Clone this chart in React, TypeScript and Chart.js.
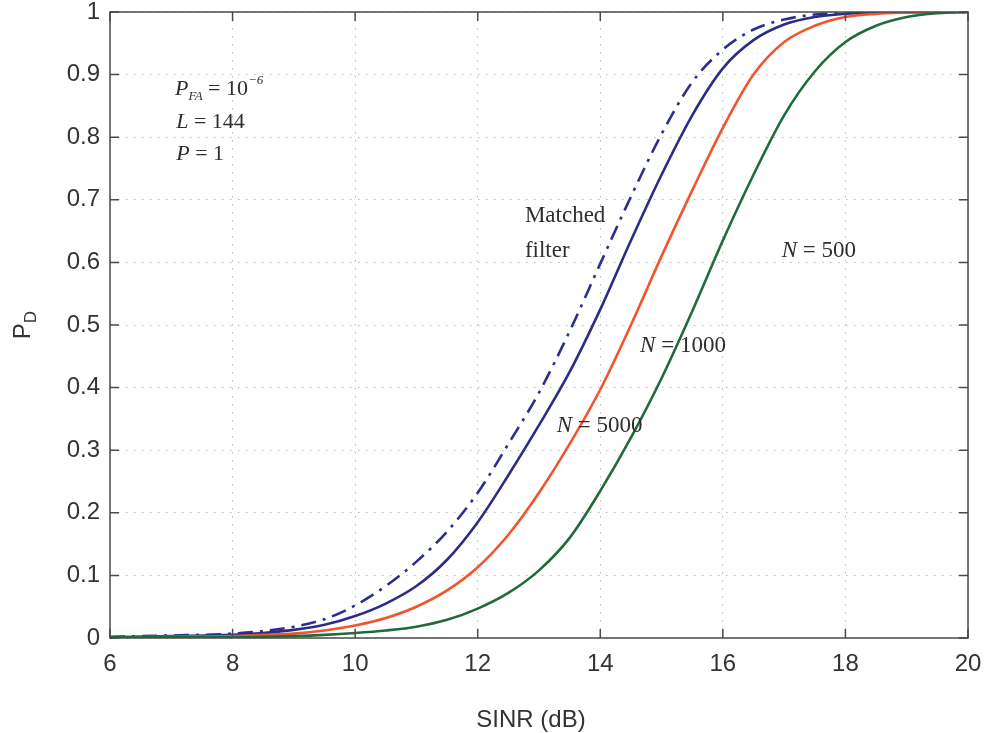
import React, { useEffect, useRef } from "react";
import { Chart, registerables } from "chart.js";
Chart.register(...registerables);

// SINR grid (dB) shared by all curves
const sinr = [6, 7, 8, 8.5, 9, 9.5, 10, 10.5, 11, 11.5, 12, 12.5, 13, 13.5, 14, 14.5, 15, 15.5, 16, 16.5, 17, 17.5, 18, 18.5, 19, 19.5, 20];
// Matched filter (dash-dot)
const pdMatched = [0.002, 0.004, 0.007, 0.011, 0.018, 0.03, 0.052, 0.083, 0.122, 0.17, 0.232, 0.31, 0.392, 0.49, 0.598, 0.705, 0.805, 0.888, 0.94, 0.972, 0.988, 0.996, 0.999, 1, 1, 1, 1];
// N = 5000
const pdN5000 = [0.001, 0.003, 0.005, 0.008, 0.013, 0.021, 0.035, 0.055, 0.083, 0.125, 0.185, 0.26, 0.34, 0.425, 0.525, 0.635, 0.74, 0.835, 0.91, 0.955, 0.98, 0.992, 0.997, 0.999, 1, 1, 1];
// N = 1000
const pdN1000 = [0.001, 0.002, 0.003, 0.005, 0.007, 0.012, 0.02, 0.032, 0.05, 0.076, 0.113, 0.165, 0.232, 0.31, 0.397, 0.5, 0.61, 0.715, 0.815, 0.9, 0.952, 0.978, 0.992, 0.997, 0.999, 1, 1];
// N = 500
const pdN500 = [0.001, 0.001, 0.001, 0.002, 0.003, 0.005, 0.008, 0.012, 0.018, 0.029, 0.047, 0.072, 0.108, 0.16, 0.235, 0.32, 0.415, 0.522, 0.635, 0.74, 0.835, 0.905, 0.952, 0.978, 0.992, 0.998, 1];

const xTicks = [6, 8, 10, 12, 14, 16, 18, 20];
const yTicks = [0, 0.1, 0.2, 0.3, 0.4, 0.5, 0.6, 0.7, 0.8, 0.9, 1];

const xTitle = "SINR (dB)";
const yTitleMain = "P";
const yTitleSub = "D";

type Seg = { t: string; italic?: boolean; size?: number; dy?: number };
type Note = { x: number; y: number; segs: Seg[] };

const notes: Note[] = [
  { x: 7.06, y: 0.867, segs: [{ t: "P", italic: true }, { t: "FA", italic: true, size: 13, dy: 5 }, { t: " = 10" }, { t: "−6", italic: true, size: 13, dy: -11 }] },
  { x: 7.08, y: 0.815, segs: [{ t: "L", italic: true }, { t: " = 144" }] },
  { x: 7.08, y: 0.764, segs: [{ t: "P", italic: true }, { t: " = 1" }] },
  { x: 12.77, y: 0.665, segs: [{ t: "Matched", size: 23 }] },
  { x: 12.77, y: 0.609, segs: [{ t: "filter", size: 23 }] },
  { x: 16.96, y: 0.609, segs: [{ t: "N", italic: true, size: 23 }, { t: " = 500", size: 23 }] },
  { x: 14.65, y: 0.457, segs: [{ t: "N", italic: true, size: 23 }, { t: " = 1000", size: 23 }] },
  { x: 13.29, y: 0.329, segs: [{ t: "N", italic: true, size: 23 }, { t: " = 5000", size: 23 }] },
];

const toPts = (xs: number[], ys: number[]) => xs.map((x, i) => ({ x, y: ys[i] }));

const decor = {
  id: "decor",
  afterDatasetsDraw(chart: any) {
    const { ctx, chartArea: a, scales } = chart;
    const x = scales.x;
    const y = scales.y;
    ctx.save();
    ctx.strokeStyle = "#4a4a4a";
    ctx.lineWidth = 1.5;
    ctx.setLineDash([]);
    ctx.strokeRect(a.left, a.top, a.right - a.left, a.bottom - a.top);
    const len = 9;
    ctx.beginPath();
    xTicks.forEach((v) => {
      const px = x.getPixelForValue(v);
      ctx.moveTo(px, a.bottom);
      ctx.lineTo(px, a.bottom - len);
      ctx.moveTo(px, a.top);
      ctx.lineTo(px, a.top + len);
    });
    yTicks.forEach((v) => {
      const py = y.getPixelForValue(v);
      ctx.moveTo(a.left, py);
      ctx.lineTo(a.left + len, py);
      ctx.moveTo(a.right, py);
      ctx.lineTo(a.right - len, py);
    });
    ctx.stroke();

    ctx.fillStyle = "#2e2e2e";
    ctx.textBaseline = "alphabetic";
    ctx.textAlign = "left";
    notes.forEach((n) => {
      let px = x.getPixelForValue(n.x);
      const py = y.getPixelForValue(n.y);
      n.segs.forEach((s) => {
        const size = s.size || 22;
        ctx.font = `${s.italic ? "italic " : ""}${size}px "Liberation Serif", "Times New Roman", serif`;
        ctx.fillText(s.t, px, py + (s.dy || 0));
        px += ctx.measureText(s.t).width;
      });
    });

    ctx.fillStyle = "#333";
    ctx.font = `24px "Liberation Sans", Arial, sans-serif`;
    ctx.textAlign = "center";
    ctx.fillText(xTitle, (a.left + a.right) / 2 - 8, 727);

    ctx.save();
    ctx.translate(30, (a.top + a.bottom) / 2);
    ctx.rotate(-Math.PI / 2);
    ctx.textAlign = "left";
    ctx.font = `24px "Liberation Sans", Arial, sans-serif`;
    const w = ctx.measureText(yTitleMain).width;
    ctx.font = `17px "Liberation Sans", Arial, sans-serif`;
    const w2 = ctx.measureText(yTitleSub).width;
    const start = -(w + w2) / 2;
    ctx.font = `24px "Liberation Sans", Arial, sans-serif`;
    ctx.fillText(yTitleMain, start, 0);
    ctx.font = `17px "Liberation Sans", Arial, sans-serif`;
    ctx.fillText(yTitleSub, start + w, 6);
    ctx.restore();

    ctx.restore();
  },
};

export default function App() {
  const ref = useRef<HTMLCanvasElement>(null);
  useEffect(() => {
    const canvas = ref.current!;
    const line = (label: string, ys: number[], color: string, dash: number[]) => ({
      label,
      data: toPts(sinr, ys),
      borderColor: color,
      backgroundColor: color,
      borderWidth: 2.6,
      borderDash: dash,
      showLine: true,
      pointRadius: 0,
      cubicInterpolationMode: "monotone" as const,
      fill: false,
    });
    const chart = new Chart(canvas, {
      type: "scatter",
      data: {
        datasets: [
          line("N = 500", pdN500, "#1f6b3c", []),
          line("N = 1000", pdN1000, "#f2552c", []),
          line("N = 5000", pdN5000, "#2b2c86", []),
          line("Matched filter", pdMatched, "#2d2f8c", [15, 7, 3, 7]),
        ],
      },
      options: {
        animation: false,
        responsive: true,
        maintainAspectRatio: false,
        layout: { padding: { left: 0, right: 21, top: 12, bottom: 0 } },
        plugins: { legend: { display: false }, tooltip: { enabled: false } },
        scales: {
          x: {
            type: "linear",
            min: 6,
            max: 20,
            afterBuildTicks: (s: any) => {
              s.ticks = xTicks.map((v) => ({ value: v }));
            },
            afterFit: (s: any) => {
              s.height = 95;
              s.paddingLeft = 0;
              s.paddingRight = 0;
            },
            ticks: {
              color: "#333",
              font: { family: '"Liberation Sans", Arial, sans-serif', size: 24 },
              padding: 12,
              maxRotation: 0,
              callback: (v: any) => String(v),
            },
            grid: { color: "#b8b8b8", lineWidth: 1, drawTicks: false },
            border: { display: false, dash: [1.5, 6.5] },
          },
          y: {
            type: "linear",
            min: 0,
            max: 1,
            afterBuildTicks: (s: any) => {
              s.ticks = yTicks.map((v) => ({ value: v }));
            },
            afterFit: (s: any) => {
              s.width = 110;
              s.paddingTop = 0;
              s.paddingBottom = 0;
            },
            ticks: {
              color: "#333",
              font: { family: '"Liberation Sans", Arial, sans-serif', size: 24 },
              padding: 10,
              callback: (v: any) => String(Math.round(v * 10) / 10),
            },
            grid: { color: "#b8b8b8", lineWidth: 1, drawTicks: false },
            border: { display: false, dash: [1.5, 6.5] },
          },
        },
      },
      plugins: [decor],
    });
    return () => chart.destroy();
  }, []);
  return (
    <div style={{ position: "fixed", left: 0, top: 0, width: 989, height: 733, background: "#fff" }}>
      <canvas ref={ref} />
    </div>
  );
}
